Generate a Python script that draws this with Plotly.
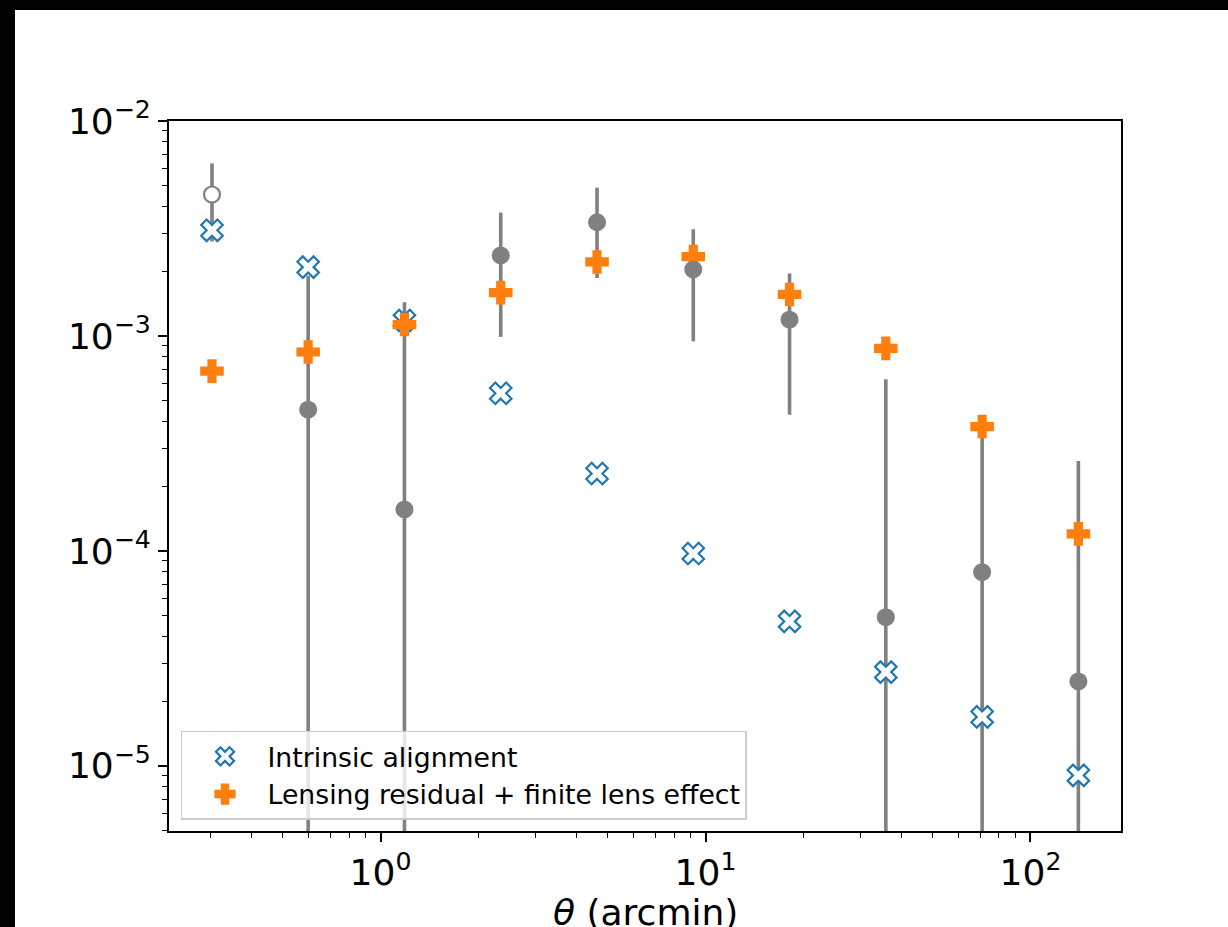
import numpy as np
import plotly.graph_objects as go

# Angular bins (arcmin)
theta = [0.303, 0.599, 1.185, 2.344, 4.637, 9.171, 18.14, 35.88, 70.99, 140.4]

# Model contributions
intrinsic_alignment = [3.10e-3, 2.09e-3, 1.18e-3, 5.41e-4, 2.29e-4,
                       9.72e-5, 4.70e-5, 2.73e-5, 1.69e-5, 9.03e-6]
lensing_residual = [6.86e-4, 8.42e-4, 1.13e-3, 1.59e-3, 2.21e-3,
                    2.34e-3, 1.56e-3, 8.75e-4, 3.79e-4, 1.20e-4]

# Measured signal (absolute value) and 1-sigma errors
measured = [4.55e-3, 4.54e-4, 1.56e-4, 2.37e-3, 3.38e-3,
            2.04e-3, 1.19e-3, 4.92e-5, 7.96e-5, 2.47e-5]
measured_err = [1.80e-3, 1.45e-3, 1.28e-3, 1.38e-3, 1.52e-3,
                1.095e-3, 7.6e-4, 5.8e-4, 3.0e-4, 2.37e-4]
# True where the measured value is negative (shown as open circle)
negative = [True, False, False, False, False, False, False, False, False, False]

legend_labels = ["Intrinsic alignment", "Lensing residual + finite lens effect"]
x_title = "<i>θ</i> (arcmin)"

x_tickvals = [1, 10, 100]
x_ticktext = ["10<sup>0</sup>", "10<sup>1</sup>", "10<sup>2</sup>"]
y_tickvals = [1e-5, 1e-4, 1e-3, 1e-2]
y_ticktext = ["10<sup>−5</sup>", "10<sup>−4</sup>", "10<sup>−3</sup>", "10<sup>−2</sup>"]

x_range = [-0.6508, 2.2785]
y_range = [-5.303, -2.0]

GRAY = "#808080"
BLUE = "#1f77b4"
ORANGE = "#ff7f0e"
FONT = "DejaVu Sans"

def minor_ticks(lo, hi):
    vals = []
    for d in range(int(np.floor(lo)), int(np.ceil(hi)) + 1):
        for m in range(2, 10):
            v = m * 10.0 ** d
            if 10 ** lo <= v <= 10 ** hi:
                vals.append(v)
    return vals

fig = go.Figure()

# Error bars (drawn underneath everything)
fig.add_trace(go.Scatter(
    x=theta, y=measured, mode="markers",
    marker=dict(size=1, color="rgba(0,0,0,0)"),
    error_y=dict(type="data", array=measured_err, symmetric=True,
                 color=GRAY, thickness=3.6, width=0),
    showlegend=False, hoverinfo="skip",
))

fig.add_trace(go.Scatter(
    x=theta, y=intrinsic_alignment, mode="markers", name=legend_labels[0],
    marker=dict(symbol="x", size=19, color="white",
                line=dict(color=BLUE, width=2.2)),
))

fig.add_trace(go.Scatter(
    x=theta, y=lensing_residual, mode="markers", name=legend_labels[1],
    marker=dict(symbol="cross", size=18, color=ORANGE,
                line=dict(color=ORANGE, width=2)),
))

# Measured points: filled for positive, open for negative values
pos_x = [t for t, n in zip(theta, negative) if not n]
pos_y = [m for m, n in zip(measured, negative) if not n]
neg_x = [t for t, n in zip(theta, negative) if n]
neg_y = [m for m, n in zip(measured, negative) if n]

fig.add_trace(go.Scatter(
    x=pos_x, y=pos_y, mode="markers",
    marker=dict(symbol="circle", size=18, color=GRAY, line=dict(width=0)),
    showlegend=False,
))
fig.add_trace(go.Scatter(
    x=neg_x, y=neg_y, mode="markers",
    marker=dict(symbol="circle", size=16, color="white",
                line=dict(color=GRAY, width=2.2)),
    showlegend=False,
))

axis_common = dict(
    type="log", showgrid=False, zeroline=False, automargin=False,
    showline=True, linecolor="black", linewidth=1.8, mirror=True,
    ticks="outside", ticklen=9, tickwidth=1.8, tickcolor="black",
    tickfont=dict(family=FONT, size=36, color="black"),
    tickmode="array",
)

fig.update_xaxes(
    **axis_common, range=x_range,
    tickvals=x_tickvals, ticktext=x_ticktext,
    minor=dict(tickmode="array", tickvals=minor_ticks(*x_range),
               ticks="outside", ticklen=5, tickwidth=1.4, tickcolor="black",
               showgrid=False),
)
fig.update_yaxes(
    **axis_common, range=y_range,
    tickvals=y_tickvals, ticktext=y_ticktext,
    minor=dict(tickmode="array", tickvals=minor_ticks(*y_range),
               ticks="outside", ticklen=5, tickwidth=1.4, tickcolor="black",
               showgrid=False),
)

# x-axis title placed below the tick labels
fig.add_annotation(
    text=x_title, xref="paper", yref="paper", x=0.5, y=-0.1141,
    xanchor="center", yanchor="middle", showarrow=False,
    font=dict(family=FONT, size=36, color="black"),
)

# White figure area inside a black frame along the top and left edges
fig.add_shape(type="rect", xref="paper", yref="paper",
              x0=-0.1618, x1=1.2, y0=-0.3, y1=1.1563,
              fillcolor="white", line=dict(width=0), layer="below")

fig.update_layout(
    width=1228, height=927,
    margin=dict(l=169, r=107, t=121, b=96),
    paper_bgcolor="black", plot_bgcolor="white",
    font=dict(family=FONT, color="black"),
    legend=dict(
        x=0.0126, y=0.0155, xanchor="left", yanchor="bottom",
        bgcolor="rgba(255,255,255,0.8)", bordercolor="#cccccc", borderwidth=1.5,
        font=dict(family=FONT, size=26.7, color="black"),
        itemwidth=75,
    ),
)

fig.write_html("out.html")
